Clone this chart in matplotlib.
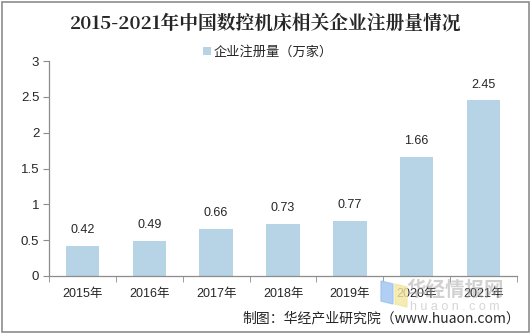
import matplotlib.pyplot as plt
from matplotlib.patches import Rectangle, Polygon
import numpy as np

plt.rcParams['font.family'] = ['Liberation Sans', 'Noto Sans CJK SC', 'DejaVu Sans']

# data
years = ["2015年", "2016年", "2017年", "2018年", "2019年", "2020年", "2021年"]
counts = [0.42, 0.49, 0.66, 0.73, 0.77, 1.66, 2.45]
y_ticks = [0, 0.5, 1, 1.5, 2, 2.5, 3]
y_tick_labels = ["0", "0.5", "1", "1.5", "2", "2.5", "3"]

bar_color = "#b7d3e6"
text_color = "#262626"
axis_color = "#8c8c8c"

fig = plt.figure(figsize=(5.32, 3.36), dpi=100)
ax = fig.add_axes([49 / 532, 60 / 336, 468 / 532, 215 / 336])

x = np.arange(len(years))
bars = ax.bar(x, counts, width=0.5, color=bar_color, label="企业注册量（万家）")

for xi, v in zip(x, counts):
    ax.annotate(f"{v:.2f}", (xi, v), xytext=(0, 7), textcoords="offset points",
                ha="center", va="bottom", fontsize=9, color=text_color)

ax.set_xlim(-0.5, len(years) - 0.5)
ax.set_ylim(0, 3)
ax.set_yticks(y_ticks)
ax.set_yticklabels(y_tick_labels)
ax.set_xticks(x)
ax.set_xticklabels(years)
ax.set_xticks(np.arange(-0.5, len(years)), minor=True)
ax.tick_params(axis="x", which="major", length=0, pad=9, labelsize=9, colors=text_color)
ax.tick_params(axis="x", which="minor", length=4, color=axis_color, direction="out")
ax.tick_params(axis="y", length=4, color=axis_color, labelsize=9.5, colors=text_color, pad=3)
ax.tick_params(axis="y", colors=axis_color, labelcolor=text_color)

for s in ["top", "right"]:
    ax.spines[s].set_visible(False)
for s in ["left", "bottom"]:
    ax.spines[s].set_color(axis_color)
    ax.spines[s].set_linewidth(0.9)

fig.text(0.5, 1 - 24 / 336, "2015-2021年中国数控机床相关企业注册量情况",
         ha="center", va="center", fontsize=13.5, fontweight="bold", color=text_color,
         family=["Noto Serif CJK SC", "Noto Sans CJK SC", "DejaVu Sans"])

fig.legend(handles=[bars], loc="center", bbox_to_anchor=(268 / 532, 1 - 52 / 336),
           frameon=False, fontsize=9, handlelength=0.6, handleheight=0.6,
           handletextpad=0.2, labelcolor=text_color,
           prop={"family": ["Noto Sans CJK SC", "DejaVu Sans"], "size": 9.5})

# watermark
fig.patches.append(Polygon([(381 / 532, 1 - 281 / 336), (393 / 532, 1 - 284 / 336),
                            (393 / 532, 1 - 304 / 336), (381 / 532, 1 - 301 / 336)],
                           closed=True, transform=fig.transFigure, color="#9cc3f0", alpha=0.8))
fig.patches.append(Polygon([(395 / 532, 1 - 284 / 336), (407 / 532, 1 - 287 / 336),
                            (407 / 532, 1 - 307 / 336), (395 / 532, 1 - 304 / 336)],
                           closed=True, transform=fig.transFigure, color="#f3e6a0", alpha=0.8))
fig.text(455 / 532, 1 - 290 / 336, "华经情报网", ha="center", va="center", fontsize=14,
         fontweight="bold", color="#9a9a9a", alpha=0.45, family=["Noto Sans CJK SC"])
fig.text(455 / 532, 1 - 307 / 336, "h u a o n . c o m", ha="center", va="center", fontsize=9,
         color="#9a9a9a", alpha=0.4)

fig.text(520 / 532, 1 - 318 / 336, "制图：华经产业研究院（www.huaon.com）",
         ha="right", va="center", fontsize=10, color=text_color,
         family=["Noto Sans CJK SC", "DejaVu Sans"])

fig.patches.append(Rectangle((2 / 532, 4 / 336), 527 / 532, 330 / 336, transform=fig.transFigure,
                             fill=False, edgecolor="#8c8c8c", linewidth=1.2))

fig.savefig("out.png", dpi=100)
